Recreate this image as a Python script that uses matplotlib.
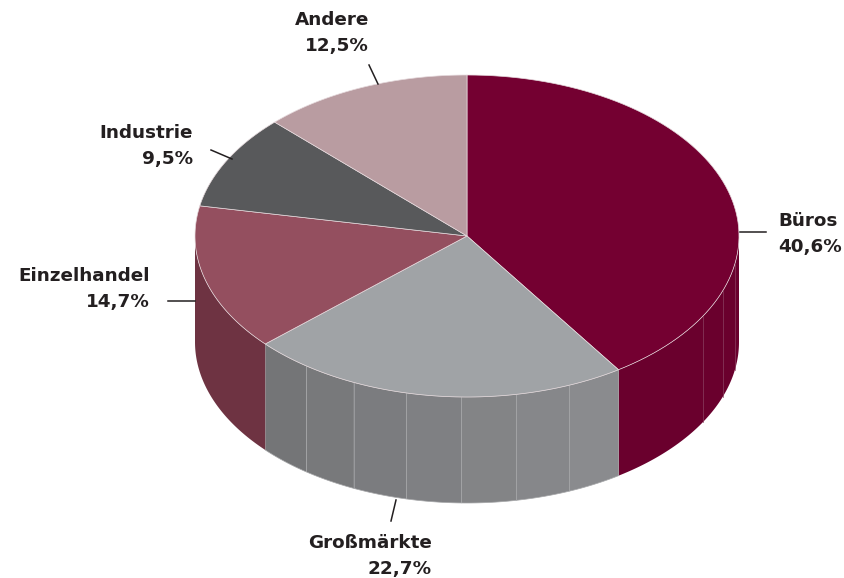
import numpy as np
import matplotlib.pyplot as plt
from matplotlib.patches import Polygon

labels = ["Büros", "Großmärkte", "Einzelhandel", "Industrie", "Andere"]
shares = [40.6, 22.7, 14.7, 9.5, 12.5]
pct_text = ["40,6%", "22,7%", "14,7%", "9,5%", "12,5%"]

top_colors = ["#740031", "#a0a3a6", "#944f5f", "#58595b", "#b99ca1"]
side_colors = ["#6a002d", "#7b7c7f", "#6e3342", "#4c4d4f", "#9c8286"]

# pie geometry in pixel space
cx, cy = 467, 236
rx, ry = 272, 161
depth = 106


def pt(theta_deg, dy=0.0):
    t = np.radians(theta_deg)
    return cx + rx * np.sin(t), cy - ry * np.cos(t) + dy


def arc(a0, a1, dy=0.0, n=80):
    ts = np.linspace(a0, a1, n)
    xs, ys = pt(ts, dy)
    return np.column_stack([xs, ys])


fig = plt.figure(figsize=(8.45, 5.78), dpi=100)
ax = fig.add_axes([0, 0, 1, 1])
ax.set_xlim(0, 845)
ax.set_ylim(578, 0)
ax.axis("off")

bounds = np.concatenate([[0], np.cumsum(shares) / sum(shares) * 360])

# side walls (front half only)
for i in range(len(shares)):
    a0, a1 = max(bounds[i], 90), min(bounds[i + 1], 270)
    if a1 <= a0:
        continue
    if labels[i] == "Großmärkte":
        edges = np.linspace(a0, a1, 8)
        for k in range(len(edges) - 1):
            f = k / (len(edges) - 2)
            c = np.array([0x8a, 0x8b, 0x8e]) * (1 - f) + np.array([0x74, 0x75, 0x77]) * f
            top = arc(edges[k], edges[k + 1])
            bot = arc(edges[k], edges[k + 1], depth)[::-1]
            ax.add_patch(Polygon(np.vstack([top, bot]), closed=True,
                                 facecolor=c / 255, edgecolor="#a6a7a9", lw=0.5))
    else:
        top = arc(a0, a1)
        bot = arc(a0, a1, depth)[::-1]
        ax.add_patch(Polygon(np.vstack([top, bot]), closed=True,
                             facecolor=side_colors[i], edgecolor="none"))
        if labels[i] == "Büros":
            for a in (100, 110, 120):
                x, y = pt(a)
                ax.plot([x, x], [y, y + depth], color="#8a4060", lw=0.5)

# top face
for i in range(len(shares)):
    pts = np.vstack([[cx, cy], arc(bounds[i], bounds[i + 1])])
    ax.add_patch(Polygon(pts, closed=True, facecolor=top_colors[i],
                         edgecolor="#e6dadd", lw=0.5, joinstyle="round"))

# labels: (text x, first line y, ha, leader line)
label_pos = {
    "Büros": (778, 221, "left", [(740, 232), (766, 232)]),
    "Großmärkte": (432, 543, "right", [(396, 500), (391, 521)]),
    "Einzelhandel": (150, 276, "right", [(168, 301), (195, 301)]),
    "Industrie": (193, 133, "right", [(211, 150), (232, 159)]),
    "Andere": (369, 20, "right", [(369, 65), (378, 84)]),
}
font = dict(fontsize=13.2, fontfamily="DejaVu Sans", fontweight="bold",
            color="#231f20")
for i, name in enumerate(labels):
    x, y, ha, line = label_pos[name]
    ax.text(x, y, name, ha=ha, va="center", **font)
    ax.text(x, y + 26, pct_text[i], ha=ha, va="center", **font)
    (x0, y0), (x1, y1) = line
    ax.plot([x0, x1], [y0, y1], color="#231f20", lw=1.1)

fig.savefig("out.png", dpi=100)
